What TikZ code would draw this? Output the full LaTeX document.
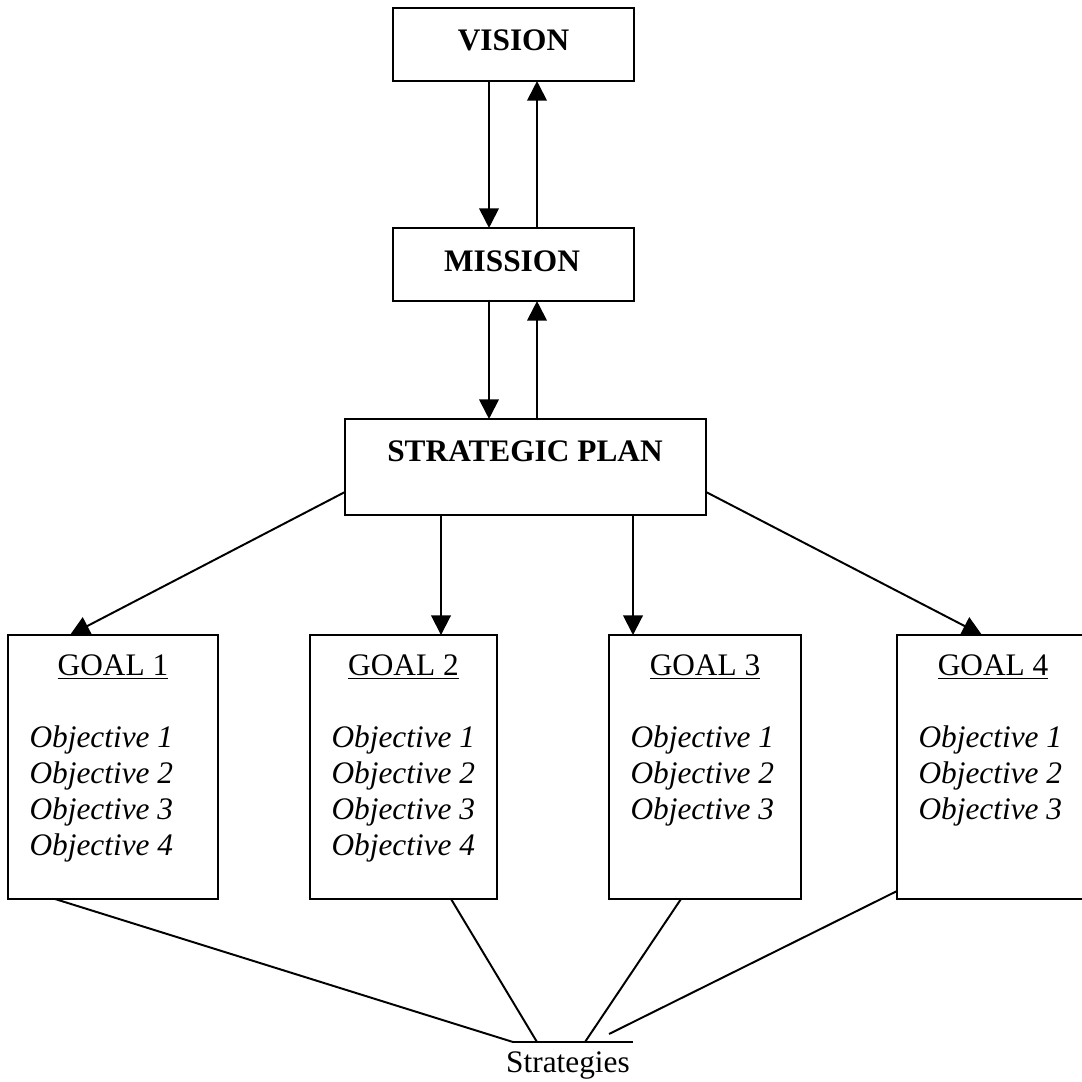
\documentclass[tikz,border=0pt]{standalone}
\usepackage{fontspec}
\setmainfont{Liberation Serif}
\usetikzlibrary{arrows.meta}

\begin{document}
\begin{tikzpicture}[x=0.383pt,y=-0.383pt,
	every node/.style={font=\fontsize{12}{13.8}\selectfont},
	plan_box/.style={draw,line width=0.75pt,inner sep=0pt,outer sep=0pt},
	title_text/.style={anchor=base,font=\fontsize{12}{13.8}\selectfont\bfseries},
	goal_text/.style={anchor=base},
	obj_text/.style={anchor=base west,inner sep=0pt,font=\fontsize{12}{13.8}\selectfont\itshape},
	flow/.style={-{Triangle[length=7.5pt,width=7.5pt]},line width=0.75pt},
	link/.style={line width=0.75pt}]
	\clip (0,0) rectangle (1082,1081);

	\node[plan_box,minimum width=92.3pt,minimum height=28pt] (vision) at (513.5,44.5) {};
	\node[title_text] (vision_text) at (513.5,51) {VISION};
	\node[plan_box,minimum width=92.3pt,minimum height=28pt] (mission) at (513.5,264.5) {};
	\node[title_text] (mission_text) at (512,271) {MISSION};
	\node[plan_box,minimum width=138.3pt,minimum height=36.8pt] (plan) at (525.5,467) {};
	\node[title_text] (plan_text) at (525,461) {STRATEGIC PLAN};

	\node[plan_box,minimum width=80.4pt,minimum height=101.1pt] (goal1) at (113,767) {};
	\node[plan_box,minimum width=71.6pt,minimum height=101.1pt] (goal2) at (403.5,767) {};
	\node[plan_box,minimum width=73.5pt,minimum height=101.1pt] (goal3) at (705,767) {};
	\node[plan_box,minimum width=73.5pt,minimum height=101.1pt] (goal4) at (993,767) {};

	% goal titles and objectives
	\foreach \g/\x in {1/113,2/403.5,3/705,4/993}
		\node[goal_text] (goal\g_title) at (\x,675) {\underline{GOAL \g}};
	\foreach \g/\x/\n in {1/29/4,2/331/4,3/630/3,4/918/3}
		\foreach \i in {1,...,\n}
			\node[obj_text] (goal\g_obj\i) at (\x,711+36*\i) {Objective \i};

	\draw[flow] (vision.south -| 489,0) -- (mission.north -| 489,0);
	\draw[flow] (mission.north -| 537,0) -- (vision.south -| 537,0);
	\draw[flow] (mission.south -| 489,0) -- (plan.north -| 489,0);
	\draw[flow] (plan.north -| 537,0) -- (mission.south -| 537,0);

	\draw[flow] (plan.west |- 0,492) -- (goal1.north -| 70,0);
	\draw[flow] (plan.south -| 441,0) -- (goal2.north -| 441,0);
	\draw[flow] (plan.south -| 633,0) -- (goal3.north -| 633,0);
	\draw[flow] (plan.east |- 0,492) -- (goal4.north -| 982,0);

	% strategies
	\node[goal_text] (strategies) at (568,1072) {Strategies};
	\coordinate (strat_left) at (513,1042);
	\coordinate (strat_right) at (633,1042);
	\coordinate (strat_gap) at (609,1034);
	\draw[link] (strat_left) -- (strat_right);
	\draw[link] (goal1.south -| 55,0) -- (strat_left);
	\draw[link] (goal2.south -| 451,0) -- (strat_left -| 537,0);
	\draw[link] (goal3.south -| 681,0) -- (strat_left -| 585,0);
	\draw[link] (goal4.west |- 0,891) -- (strat_gap);
\end{tikzpicture}
\end{document}
